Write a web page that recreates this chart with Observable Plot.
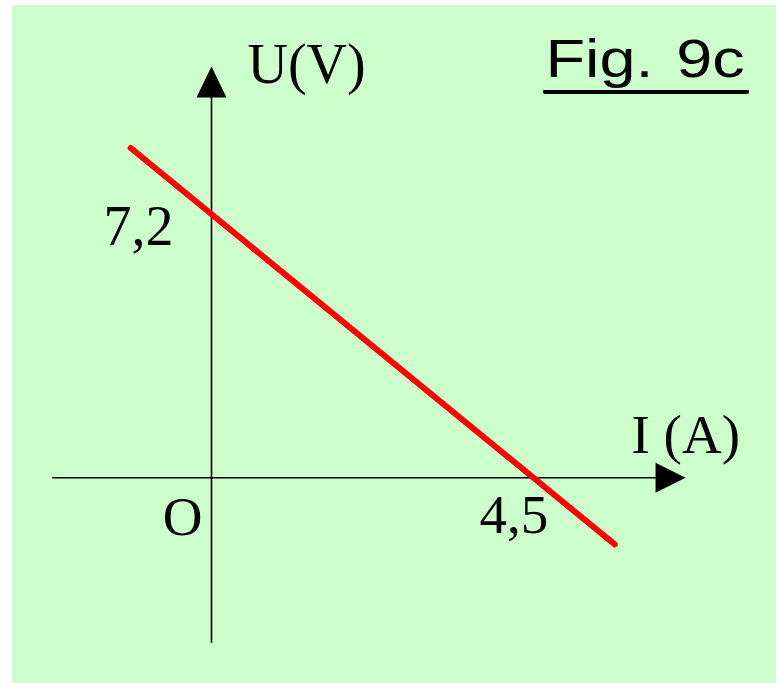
<!DOCTYPE html>
<html>
<head>
<meta charset="utf-8">
<script src="https://cdn.jsdelivr.net/npm/d3@7"></script>
<script src="https://cdn.jsdelivr.net/npm/@observablehq/plot@0.6"></script>
<style>
  html, body { margin: 0; padding: 0; background: #ffffff; }
  #stage { position: relative; width: 776px; height: 683px; background: #ffffff; overflow: hidden; }
  #panel { position: absolute; left: 12px; top: 5px; width: 764px; height: 678px; background: #ccffcc; }
  #chart { position: absolute; left: 0; top: 0; }
  #title {
    position: absolute; left: 543px; top: 31px; width: 206px;
    padding-bottom: 5px; border-bottom: 4px solid #000; border-radius: 0 0 2px 2px;
    font-family: "Liberation Sans", Arial, sans-serif; font-size: 54px; line-height: 54px;
    color: #000; white-space: pre;
  }
  #title span { display: inline-block; transform: scaleX(1.2); transform-origin: 0 0; padding-left: 2px; word-spacing: 4px; }
</style>
</head>
<body>
<div id="stage">
  <div id="panel"></div>
  <div id="chart"></div>
  <div id="title"><span>Fig. 9c</span></div>
</div>
<script>
// Characteristic U = f(I) of the generator: a straight line falling from U0 = 7,2 V to Icc = 4,5 A
const lineI = [-1.13, 5.64];
const lineU = [9.01, -1.82];

// Axis extents (arrow tips at the far ends)
const axisI = [-2.22, 6.63];
const axisU = [-4.53, 11.24];

// Labelled values on the axes
const emf = 7.2;          // U at I = 0
const shortCircuit = 4.5; // I at U = 0
const emfLabel = "7,2";
const iccLabel = "4,5";
const originLabel = "O";
const xTitle = "I (A)";
const yTitle = "U(V)";

// Visible window of the scales
const domainI = [-2.951, 7.902];
const domainU = [-5.62, 13.041];

const linePts = lineI.map((I, k) => ({I, U: lineU[k]}));

// Filled arrowheads with the tip at the anchor point
const arrowUp = {
  draw(ctx, size) {
    const r = Math.sqrt(size / Math.PI);
    ctx.moveTo(0, 0);
    ctx.lineTo(r, 2.07 * r);
    ctx.lineTo(-r, 2.07 * r);
    ctx.closePath();
  }
};
const arrowRight = {
  draw(ctx, size) {
    const r = Math.sqrt(size / Math.PI);
    ctx.moveTo(0, 0);
    ctx.lineTo(-2 * r, -r);
    ctx.lineTo(-2 * r, r);
    ctx.closePath();
  }
};

const serif = "'Liberation Serif', 'Times New Roman', serif";

const chart = Plot.plot({
  width: 776,
  height: 683,
  margin: 0,
  style: {background: "transparent", overflow: "visible"},
  x: {domain: domainI, axis: null},
  y: {domain: domainU, axis: null},
  marks: [
    // axes
    Plot.ruleY([0], {x1: axisI[0], x2: axisI[1] - 0.3, stroke: "#000", strokeWidth: 1.6}),
    Plot.ruleX([0], {y1: axisU[0], y2: axisU[1] - 0.6, stroke: "#000", strokeWidth: 1.6}),
    Plot.dot([{I: axisI[1], U: 0}], {x: "I", y: "U", symbol: arrowRight, r: 15, fill: "#000", stroke: null}),
    Plot.dot([{I: 0, U: axisU[1]}], {x: "I", y: "U", symbol: arrowUp, r: 15, fill: "#000", stroke: null}),
    // characteristic
    Plot.line(linePts, {x: "I", y: "U", stroke: "#ff0000", strokeWidth: 6, strokeLinecap: "round"}),
    // value labels
    Plot.text([{I: 0, U: emf}], {x: "I", y: "U", text: () => emfLabel, textAnchor: "end", dx: -38, dy: 13,
      fontSize: 56, fontFamily: serif, fill: "#000"}),
    Plot.text([{I: shortCircuit, U: 0}], {x: "I", y: "U", text: () => iccLabel, textAnchor: "end", dx: 15, dy: 38,
      fontSize: 55, fontFamily: serif, fill: "#000"}),
    Plot.text([{I: 0, U: 0}], {x: "I", y: "U", text: () => originLabel, textAnchor: "middle", dx: -29, dy: 40,
      fontSize: 55, fontFamily: serif, fill: "#000"}),
    // axis titles
    Plot.text([{I: 0, U: axisU[1]}], {x: "I", y: "U", text: () => yTitle, textAnchor: "start", dx: 36, dy: -1,
      fontSize: 56, fontFamily: serif, fill: "#000"}),
    Plot.text([{I: axisI[1], U: 0}], {x: "I", y: "U", text: () => xTitle, textAnchor: "start", dx: -54, dy: -42,
      fontSize: 55, fontFamily: serif, fill: "#000"})
  ]
});

document.getElementById("chart").appendChild(chart);
</script>
</body>
</html>
